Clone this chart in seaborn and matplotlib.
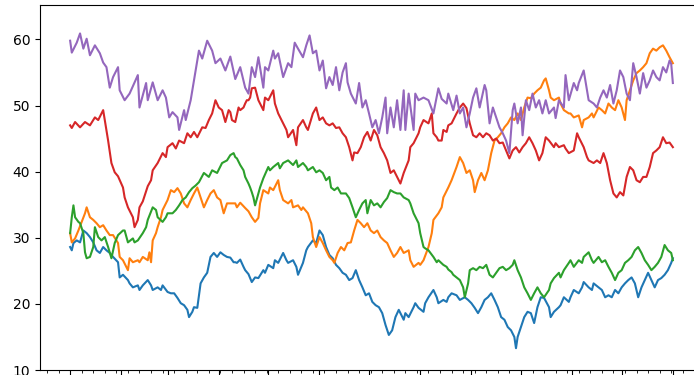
import matplotlib
matplotlib.use("Agg")
import matplotlib.pyplot as plt
import matplotlib.dates as mdates
import matplotlib.ticker as mticker
import pandas as pd
import seaborn as sns

START = "2001-01-01"
series_names = ["s1", "s2", "s3", "s4", "s5"]
colors = ["#1f77b4", "#ff7f0e", "#2ca02c", "#d62728", "#9467bd"]

# day offsets from START and the values for each series
s1_day = [0, 1, 2, 4, 6, 8, 10, 12, 14, 16,
          18, 20, 22, 24, 26, 29, 30, 32, 35, 36,
          38, 41, 42, 44, 47, 49, 50, 53, 55, 56,
          59, 61, 63, 65, 67, 69, 71, 72, 74, 75,
          77, 79, 81, 83, 85, 87, 89, 91, 93, 95,
          97, 99, 100, 101, 103, 105, 106, 108, 110, 112,
          114, 117, 118, 120, 123, 124, 126, 129, 131, 132,
          135, 137, 138, 141, 143, 144, 147, 149, 151, 153,
          155, 157, 159, 161, 163, 165, 167, 169, 171, 173,
          175, 177, 179, 181, 183, 185, 187, 189, 191, 193,
          195, 197, 199, 202, 203, 205, 208, 209, 211, 214,
          215, 217, 220, 222, 223, 226, 228, 229, 231, 234,
          236, 239, 241, 243, 245, 247, 249, 251, 253, 255,
          257, 259, 261, 263, 265, 267, 269, 270, 271, 273,
          275, 277, 279, 281, 283, 285, 287, 290, 291, 293,
          296, 297, 299, 302, 303, 305, 308, 310, 311, 314,
          316, 317, 320, 322, 324, 326, 328, 330, 332, 334,
          336, 338, 340, 342, 344, 346, 348, 350, 352, 354,
          356, 358, 360, 362, 364, 365]
s1_val = [28.6, 28.1, 29.2, 29.6, 29.3, 31.1, 30.7, 30.1, 29.3, 28.1,
          27.7, 28.6, 28.1, 27.7, 27.1, 26.3, 24.0, 24.4, 23.6, 23.1,
          22.5, 22.8, 22.1, 22.8, 23.6, 22.8, 22.1, 22.5, 22.1, 22.8,
          21.8, 21.6, 21.6, 20.9, 20.1, 19.8, 19.1, 18.0, 18.8, 19.5,
          19.4, 23.1, 24.0, 24.7, 27.1, 27.7, 27.1, 27.8, 27.4, 27.1,
          27.0, 26.3, 26.3, 26.2, 26.7, 25.6, 25.1, 24.5, 23.3, 24.0,
          23.9, 25.1, 24.7, 25.9, 25.4, 26.6, 26.2, 27.7, 26.6, 26.2,
          26.6, 25.6, 24.4, 26.2, 28.1, 28.6, 29.6, 29.2, 31.1, 30.4,
          28.6, 27.4, 26.9, 25.9, 25.4, 24.7, 24.4, 23.6, 23.9, 25.1,
          23.6, 22.5, 21.3, 21.6, 20.3, 19.8, 19.5, 18.6, 16.8, 15.3,
          16.0, 18.0, 19.1, 17.6, 18.6, 18.0, 19.5, 20.1, 19.4, 18.8,
          20.1, 21.0, 22.1, 21.0, 20.1, 20.6, 20.3, 21.0, 21.6, 21.3,
          20.6, 21.0, 20.6, 20.1, 19.4, 18.6, 19.5, 20.6, 21.0, 21.6,
          20.6, 19.5, 18.0, 17.6, 16.5, 16.0, 15.0, 13.3, 15.0, 16.5,
          18.0, 18.8, 18.6, 17.1, 19.5, 21.0, 20.9, 19.5, 18.0, 18.8,
          19.5, 19.8, 21.0, 20.3, 21.0, 22.1, 21.6, 22.5, 23.3, 22.5,
          22.1, 23.1, 22.5, 22.1, 21.0, 21.3, 21.0, 22.1, 21.6, 22.5,
          23.1, 23.6, 24.0, 23.1, 21.0, 22.5, 23.6, 24.7, 23.6, 22.5,
          23.6, 23.9, 24.4, 25.1, 26.2, 26.9]

s2_day = [0, 1, 3, 5, 7, 9, 10, 12, 14, 16,
          18, 20, 22, 24, 26, 29, 30, 32, 35, 36,
          38, 41, 42, 44, 47, 48, 49, 50, 52, 53,
          55, 56, 59, 61, 63, 65, 67, 69, 71, 73,
          75, 77, 79, 81, 83, 85, 87, 89, 91, 93,
          95, 97, 99, 100, 101, 103, 106, 108, 110, 112,
          114, 115, 117, 120, 121, 123, 126, 127, 129, 132,
          134, 135, 138, 140, 141, 144, 146, 147, 149, 151,
          153, 155, 157, 159, 160, 162, 164, 166, 168, 170,
          172, 174, 176, 178, 180, 182, 184, 186, 188, 190,
          192, 194, 196, 198, 200, 202, 205, 206, 208, 211,
          212, 214, 217, 219, 220, 223, 225, 226, 229, 231,
          234, 236, 238, 240, 242, 244, 245, 247, 249, 251,
          253, 255, 257, 259, 261, 263, 265, 267, 269, 271,
          273, 275, 277, 279, 281, 283, 285, 287, 288, 290,
          291, 293, 296, 297, 299, 302, 303, 305, 308, 310,
          311, 314, 316, 317, 320, 322, 324, 326, 328, 330,
          332, 334, 336, 337, 339, 341, 343, 345, 347, 349,
          351, 353, 355, 357, 359, 361, 363, 365]
s2_val = [30.7, 29.3, 29.9, 31.1, 32.4, 33.7, 34.6, 33.1, 32.7, 32.2,
          31.6, 31.9, 31.1, 30.4, 30.4, 29.2, 27.1, 26.6, 25.1, 26.9,
          26.3, 26.6, 26.3, 27.1, 26.6, 27.8, 26.3, 29.6, 30.7, 31.6,
          33.1, 34.2, 35.7, 37.2, 36.9, 37.5, 36.7, 35.2, 34.6, 35.7,
          36.7, 37.6, 36.1, 34.6, 35.7, 36.7, 37.2, 36.1, 35.7, 33.7,
          35.2, 35.2, 35.2, 35.2, 34.6, 35.3, 34.5, 34.0, 33.1, 32.4,
          33.0, 35.2, 37.2, 36.7, 37.6, 37.2, 38.7, 37.2, 35.7, 35.2,
          35.7, 34.6, 34.9, 34.2, 34.6, 33.7, 32.2, 30.1, 28.6, 30.1,
          29.2, 28.1, 27.1, 26.6, 26.2, 27.7, 28.6, 28.1, 29.2, 29.3,
          31.1, 32.7, 32.2, 31.6, 32.2, 31.1, 30.7, 31.1, 30.1, 29.6,
          29.2, 28.1, 27.1, 27.7, 28.6, 27.7, 28.1, 26.6, 25.6, 26.2,
          25.9, 26.6, 28.6, 30.7, 32.7, 33.7, 34.6, 36.1, 37.6, 38.7,
          40.7, 42.2, 41.3, 39.8, 40.2, 38.7, 36.9, 38.7, 39.8, 38.7,
          40.2, 42.8, 44.7, 45.2, 45.8, 46.7, 47.3, 48.2, 47.8, 48.8,
          47.8, 49.7, 51.2, 51.1, 51.8, 52.3, 52.7, 53.8, 54.1, 52.3,
          51.2, 50.8, 51.2, 50.3, 49.3, 48.8, 48.8, 48.2, 48.5, 46.7,
          47.8, 48.2, 48.8, 48.2, 49.7, 49.3, 48.8, 50.3, 49.7, 49.3,
          50.8, 49.7, 47.8, 50.8, 52.3, 53.8, 54.9, 55.3, 55.8, 56.4,
          57.9, 58.6, 58.3, 58.8, 59.1, 58.3, 57.3, 56.4]

s3_day = [0, 1, 2, 3, 5, 6, 8, 9, 10, 12,
          14, 15, 17, 19, 21, 23, 25, 27, 29, 32,
          33, 35, 38, 39, 41, 44, 46, 47, 50, 52,
          53, 56, 58, 59, 62, 64, 66, 68, 70, 72,
          74, 76, 78, 81, 84, 86, 89, 92, 95, 97,
          99, 100, 101, 103, 105, 106, 107, 108, 109, 110,
          111, 112, 114, 115, 117, 120, 121, 123, 126, 127,
          129, 132, 135, 137, 138, 141, 143, 144, 147, 149,
          151, 153, 155, 157, 158, 160, 162, 164, 167, 169,
          171, 173, 175, 177, 179, 180, 182, 184, 186, 188,
          190, 192, 194, 196, 198, 200, 202, 205, 206, 208,
          211, 212, 214, 215, 217, 220, 222, 223, 226, 228,
          229, 231, 232, 236, 238, 239, 241, 242, 244, 246,
          248, 250, 252, 254, 256, 258, 260, 262, 264, 266,
          268, 269, 271, 273, 275, 277, 279, 281, 283, 285,
          287, 290, 291, 293, 296, 297, 299, 302, 303, 305,
          308, 310, 311, 314, 316, 317, 320, 322, 324, 326,
          328, 330, 332, 334, 336, 338, 340, 342, 344, 346,
          348, 350, 352, 354, 356, 358, 360, 362, 364, 365]
s3_val = [30.7, 33.1, 34.9, 33.1, 32.4, 32.2, 30.7, 27.8, 26.9, 27.1,
          28.6, 31.6, 30.1, 29.6, 30.1, 28.6, 26.9, 29.2, 30.4, 31.1,
          31.1, 29.3, 29.9, 29.3, 29.6, 30.7, 31.6, 32.7, 34.6, 34.2,
          33.1, 32.4, 33.1, 33.7, 33.7, 34.2, 34.9, 35.7, 36.1, 36.9,
          37.5, 37.9, 38.4, 39.8, 39.2, 40.2, 39.8, 41.3, 41.7, 42.5,
          42.8, 42.2, 42.0, 41.0, 40.2, 39.2, 38.7, 38.2, 37.6, 36.9,
          36.1, 34.9, 36.7, 37.6, 39.0, 40.7, 40.2, 40.7, 41.3, 40.5,
          41.3, 41.7, 41.0, 41.7, 40.7, 41.3, 40.7, 40.2, 40.7, 39.9,
          40.2, 39.8, 38.7, 39.2, 37.6, 37.2, 37.6, 36.7, 36.7, 36.0,
          34.6, 33.1, 34.2, 35.2, 35.7, 33.7, 35.7, 34.9, 35.2, 34.6,
          35.4, 36.0, 37.2, 36.9, 36.7, 36.7, 36.1, 35.7, 35.2, 33.7,
          32.2, 30.7, 28.6, 28.4, 28.1, 27.1, 26.3, 26.6, 25.9, 25.6,
          25.2, 24.8, 24.4, 23.6, 22.5, 21.0, 23.1, 25.1, 25.4, 25.1,
          25.6, 25.4, 25.9, 24.4, 24.0, 24.7, 25.4, 25.6, 25.1, 25.4,
          25.9, 26.6, 25.1, 24.0, 22.5, 21.6, 20.6, 21.6, 22.5, 21.6,
          21.0, 22.1, 23.1, 23.9, 24.7, 24.0, 25.1, 26.2, 26.6, 25.6,
          26.6, 26.2, 27.1, 27.8, 26.6, 26.2, 27.1, 26.3, 26.6, 25.6,
          24.7, 23.6, 24.7, 25.1, 26.2, 26.6, 27.1, 28.1, 28.6, 27.7,
          26.6, 25.9, 25.1, 25.6, 26.2, 27.1, 28.9, 28.1, 27.7, 26.6]

s4_day = [0, 1, 3, 6, 9, 12, 15, 17, 20, 21,
          23, 25, 27, 29, 32, 33, 35, 38, 39, 41,
          42, 44, 47, 49, 50, 53, 56, 58, 59, 62,
          64, 66, 69, 71, 73, 75, 77, 80, 82, 84,
          86, 88, 90, 92, 94, 96, 97, 98, 100, 102,
          103, 105, 106, 107, 108, 109, 110, 112, 114, 117,
          118, 120, 123, 124, 126, 129, 131, 132, 135, 137,
          138, 141, 143, 144, 147, 149, 151, 153, 155, 157,
          159, 161, 163, 165, 167, 169, 171, 172, 174, 176,
          178, 180, 182, 184, 186, 188, 190, 192, 194, 196,
          198, 200, 202, 205, 206, 208, 211, 212, 214, 217,
          219, 220, 222, 223, 225, 226, 228, 229, 231, 234,
          236, 238, 240, 242, 244, 246, 248, 250, 252, 254,
          256, 258, 260, 262, 264, 266, 268, 270, 272, 274,
          276, 278, 280, 282, 284, 286, 288, 290, 293, 294,
          296, 299, 300, 302, 305, 307, 308, 311, 313, 314,
          317, 319, 321, 323, 325, 327, 329, 331, 333, 335,
          337, 339, 341, 343, 345, 347, 349, 351, 353, 355,
          357, 359, 361, 363, 365]
s4_val = [47.0, 46.6, 47.5, 46.7, 47.5, 47.0, 48.2, 47.8, 49.3, 47.8,
          44.7, 41.3, 39.9, 39.3, 37.6, 36.1, 34.6, 33.1, 31.6, 32.7,
          34.6, 35.5, 37.8, 38.7, 40.2, 41.3, 42.8, 42.2, 43.7, 44.3,
          43.5, 44.7, 44.3, 45.8, 45.2, 46.0, 45.2, 46.7, 46.6, 47.8,
          48.8, 50.8, 49.7, 49.3, 47.5, 49.3, 49.0, 47.8, 47.5, 49.7,
          49.3, 49.7, 50.3, 50.8, 50.8, 51.2, 52.6, 52.7, 50.8, 49.3,
          51.2, 50.8, 52.3, 50.3, 48.8, 47.3, 46.3, 45.2, 46.3, 44.0,
          46.7, 47.8, 46.7, 46.3, 48.8, 49.7, 47.8, 48.2, 47.3, 47.0,
          47.3, 46.6, 46.7, 45.8, 45.2, 43.7, 41.7, 42.9, 42.8, 43.7,
          45.2, 46.0, 44.7, 46.3, 45.5, 43.7, 42.8, 41.7, 39.8, 40.2,
          39.2, 38.2, 39.8, 41.7, 43.7, 44.3, 45.8, 46.7, 47.8, 47.3,
          48.8, 45.8, 45.2, 44.7, 44.7, 46.3, 46.0, 47.0, 47.3, 48.8,
          49.7, 50.3, 49.6, 47.3, 45.5, 45.2, 45.8, 45.2, 45.8, 45.5,
          44.7, 45.0, 44.3, 44.4, 43.2, 42.0, 43.2, 43.7, 42.9, 43.7,
          44.3, 45.2, 44.3, 43.2, 41.7, 42.8, 45.2, 44.7, 43.7, 44.3,
          43.7, 44.0, 43.5, 42.8, 43.2, 45.8, 45.2, 43.7, 42.2, 41.7,
          41.3, 41.7, 41.3, 42.8, 41.3, 38.7, 36.7, 36.1, 36.9, 36.4,
          39.2, 40.7, 40.2, 38.7, 38.4, 39.2, 39.2, 40.7, 42.8, 43.2,
          43.7, 45.2, 44.3, 44.4, 43.7]

s5_day = [0, 1, 4, 6, 8, 10, 12, 15, 18, 20,
          22, 24, 26, 29, 30, 33, 36, 39, 41, 42,
          46, 47, 50, 53, 56, 58, 60, 62, 65, 66,
          69, 70, 73, 76, 78, 80, 83, 86, 88, 91,
          94, 97, 100, 103, 106, 108, 110, 112, 114, 117,
          118, 120, 123, 124, 126, 129, 132, 134, 136, 138,
          141, 143, 145, 147, 149, 151, 153, 155, 157, 159,
          161, 163, 165, 167, 168, 170, 173, 175, 177, 179,
          181, 183, 185, 187, 189, 191, 192, 194, 196, 198,
          200, 202, 203, 205, 208, 209, 211, 214, 217, 220,
          223, 225, 228, 229, 232, 234, 236, 238, 240, 242,
          244, 246, 248, 251, 252, 254, 256, 258, 260, 262,
          264, 266, 268, 269, 271, 273, 274, 276, 278, 280,
          282, 284, 286, 288, 290, 293, 294, 296, 299, 300,
          302, 305, 307, 308, 311, 313, 314, 317, 319, 321,
          323, 325, 327, 329, 331, 333, 335, 337, 339, 341,
          343, 345, 347, 349, 351, 353, 355, 357, 359, 361,
          363, 364, 365]
s5_val = [59.8, 58.0, 59.5, 60.9, 58.6, 60.1, 57.6, 59.1, 57.9, 56.5,
          55.8, 52.7, 54.3, 55.8, 52.3, 50.8, 51.8, 53.5, 54.6, 49.7,
          53.4, 50.8, 53.5, 50.8, 52.3, 51.2, 48.2, 49.0, 48.2, 46.3,
          49.3, 47.8, 50.8, 55.3, 58.3, 57.1, 59.8, 58.3, 56.4, 57.1,
          55.3, 57.4, 54.0, 55.8, 52.7, 51.8, 55.8, 54.3, 57.3, 52.7,
          55.8, 55.3, 58.3, 57.1, 57.9, 54.3, 56.4, 55.8, 59.5, 58.6,
          57.3, 59.1, 60.6, 57.9, 58.3, 55.3, 56.8, 52.6, 54.3, 53.1,
          55.8, 52.3, 55.0, 56.4, 53.5, 51.8, 50.3, 53.4, 49.7, 50.8,
          48.8, 46.7, 47.8, 45.8, 48.2, 51.2, 45.8, 49.7, 46.7, 50.8,
          46.3, 52.3, 46.3, 51.8, 46.3, 51.8, 50.8, 51.2, 50.8, 48.8,
          52.6, 51.0, 50.3, 51.8, 49.3, 51.5, 48.8, 49.7, 46.7, 48.8,
          51.2, 52.6, 49.7, 53.1, 52.3, 47.3, 49.7, 48.2, 46.7, 45.8,
          44.7, 42.8, 49.3, 50.3, 47.3, 49.7, 45.5, 50.8, 49.3, 51.8,
          49.7, 50.8, 48.8, 50.8, 48.8, 49.7, 48.1, 50.8, 49.7, 54.6,
          50.8, 53.4, 52.3, 53.4, 55.3, 52.3, 50.8, 50.3, 49.7, 51.2,
          52.3, 51.2, 53.1, 50.3, 52.3, 55.3, 54.3, 51.8, 50.8, 56.4,
          54.3, 51.8, 54.9, 52.7, 53.8, 55.3, 54.3, 53.8, 55.8, 55.0,
          56.8, 56.3, 53.4]

all_days = [s1_day, s2_day, s3_day, s4_day, s5_day]
all_vals = [s1_val, s2_val, s3_val, s4_val, s5_val]

frames = []
for name, days, vals in zip(series_names, all_days, all_vals):
    frames.append(pd.DataFrame({
        "date": pd.Timestamp(START) + pd.to_timedelta(days, unit="D"),
        "value": vals,
        "series": name,
    }))
df = pd.concat(frames, ignore_index=True)

fig = plt.figure(figsize=(6.94, 3.75), dpi=100)
ax = fig.add_axes([40 / 694, 5 / 375, 663 / 694, 365 / 375])

sns.lineplot(data=df, x="date", y="value", hue="series", hue_order=series_names,
             palette=colors, estimator=None, legend=False, linewidth=1.5, ax=ax)

ax.set_ylim(10, 65.2)
# monthly major ticks, weekly (Monday) minor ticks; the date labels sit below the frame
ax.xaxis.set_major_locator(mdates.MonthLocator())
ax.xaxis.set_minor_locator(mdates.WeekdayLocator(byweekday=mdates.MO))
ax.xaxis.set_major_formatter(mticker.NullFormatter())
ax.set_xlabel("")
ax.set_ylabel("")

fig.savefig("out.png", dpi=100)
